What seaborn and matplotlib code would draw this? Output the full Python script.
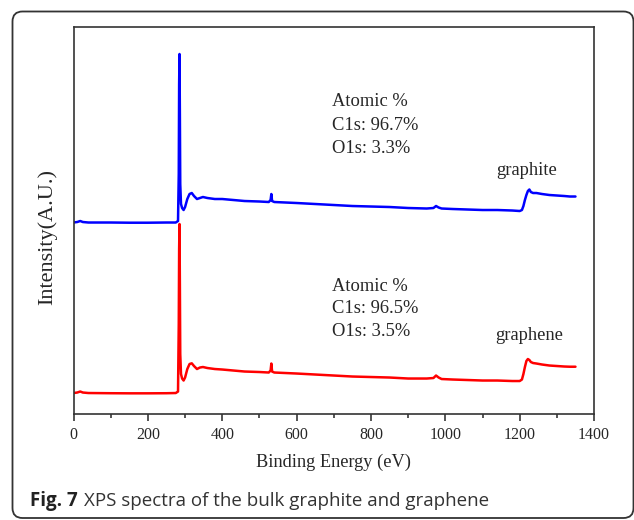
import numpy as np
import pandas as pd
import matplotlib
matplotlib.use("Agg")
import matplotlib.pyplot as plt
from matplotlib.patches import FancyBboxPatch
from matplotlib.ticker import MultipleLocator
import seaborn as sns

# Binding energy points (eV)
energy = [0, 10, 18, 25, 40, 100, 150, 200, 250, 275, 281, 283, 284, 285, 286, 287,
          289, 292, 296, 300, 306, 312, 318, 324, 332, 340, 348, 360, 380, 400, 430,
          460, 500, 525, 530, 532, 534, 540, 570, 600, 650, 700, 750, 800, 850, 900,
          950, 968, 975, 982, 990, 1020, 1060, 1100, 1140, 1180, 1200, 1206, 1210,
          1214, 1218, 1222, 1226, 1230, 1236, 1245, 1260, 1280, 1300, 1320, 1335, 1350]

# Intensity (a.u., stacked) for bulk graphite
graphite = [191.5, 192, 193, 192, 191.5, 191.5, 191.3, 191.3, 191.5, 191.5, 193, 240,
            330, 360, 300, 230, 210, 206, 204, 207, 215, 220, 221, 218, 215, 216, 217,
            216, 215, 215, 214, 213, 212.5, 212, 214, 220, 213, 212, 211.5, 211, 210,
            209, 208, 207.5, 207, 206, 205.5, 206, 208, 206.5, 205.5, 205, 204.5, 204,
            204, 203.5, 203, 204, 208, 214, 219, 223, 224.5, 222, 221, 221, 220, 219,
            218.5, 218, 217.5, 217.5]

# Intensity (a.u.) for graphene
graphene = [21, 21.5, 22.5, 21.5, 21, 20.8, 20.7, 20.7, 20.8, 21, 22.5, 90, 165, 190,
            130, 60, 40, 35.5, 33.5, 36.5, 45, 50, 50.7, 48, 45, 46.5, 47, 46, 45, 44.5,
            43.5, 42.5, 42, 41.5, 43.5, 50.5, 42.5, 41.5, 41, 40.5, 39.5, 38.5, 37.5, 37,
            36.5, 35.5, 35.5, 36, 38.5, 36.5, 35, 34.5, 34, 33.5, 33.5, 33, 33, 34.5, 40,
            47, 53, 55, 54, 52, 51, 50.5, 49.5, 48.5, 48, 47.5, 47.3, 47.3]

df = pd.DataFrame({"energy": energy, "graphite": graphite, "graphene": graphene})

sns.set_style("ticks")
plt.rcParams["font.family"] = ["Liberation Serif", "DejaVu Serif"]

fig = plt.figure(figsize=(6.34, 5.2), dpi=100)
ax = fig.add_axes([0.116, 0.2038, 0.821, 0.7437])

sns.lineplot(data=df, x="energy", y="graphite", color="#0000ff", linewidth=1.8,
             sort=False, ax=ax)
sns.lineplot(data=df, x="energy", y="graphene", color="#ff0000", linewidth=1.8,
             sort=False, ax=ax)

ax.set_xlim(0, 1400)
ax.set_ylim(0, 386.7)
ax.xaxis.set_major_locator(MultipleLocator(200))
ax.xaxis.set_minor_locator(MultipleLocator(100))
ax.tick_params(axis="x", which="major", length=5, width=1.1, direction="out",
               labelsize=11.5, pad=4)
ax.tick_params(axis="x", which="minor", length=3, width=1.1, direction="out")
ax.set_yticks([])
for s in ax.spines.values():
    s.set_visible(True)
    s.set_linewidth(1.2)
    s.set_color("#333333")

ax.set_xlabel("Binding Energy (eV)", fontsize=13.2, labelpad=8)
ax.set_ylabel("Intensity(A.U.)", fontsize=16)
ax.yaxis.set_label_coords(-0.031, 0.4585)

# annotations
ann = 13.3
ax.text(695, 312.3, "Atomic %", fontsize=ann, va="center")
ax.text(695, 289.0, "C1s: 96.7%", fontsize=ann, va="center")
ax.text(695, 265.7, "O1s: 3.3%", fontsize=ann, va="center")
ax.text(1138, 244, "graphite", fontsize=ann, va="center")
ax.text(695, 128.0, "Atomic %", fontsize=ann, va="center")
ax.text(695, 105.7, "C1s: 96.5%", fontsize=ann, va="center")
ax.text(695, 82.3, "O1s: 3.5%", fontsize=ann, va="center")
ax.text(1134, 79, "graphene", fontsize=ann, va="center")

# rounded frame round the figure
frame = FancyBboxPatch((0.125, 0.02), 6.21, 5.065,
                       boxstyle="round,pad=0,rounding_size=0.1",
                       transform=fig.dpi_scale_trans, fill=False,
                       edgecolor="#333333", linewidth=1.3)
fig.add_artist(frame)

# caption
cap_y = (520 - 501) / 520
t1 = fig.text(30 / 634, cap_y, "Fig. 7", fontsize=13.5, fontweight="bold",
              family=["Open Sans", "DejaVu Sans"], va="center", color="#222222")
fig.canvas.draw()
bb = t1.get_window_extent()
fig.text((bb.x1 + 6) / 634, cap_y, "XPS spectra of the bulk graphite and graphene",
         fontsize=13.5, family=["Open Sans", "DejaVu Sans"], va="center", color="#333333")

fig.savefig("out.png", dpi=100)
